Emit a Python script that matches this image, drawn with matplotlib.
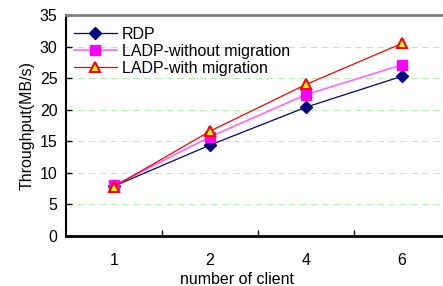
import matplotlib.pyplot as plt

plt.rcParams['font.family'] = ['Liberation Sans', 'DejaVu Sans']

clients = ["1", "2", "4", "6"]
rdp = [7.9, 14.4, 20.4, 25.3]
ladp_without = [8.0, 15.7, 22.4, 27.1]
ladp_with = [7.8, 16.6, 24.0, 30.5]

fig = plt.figure(figsize=(4.43, 2.86), dpi=100)
# axes runs a bit past the right edge, like the original
ax = fig.add_axes([66 / 443, 50 / 286, 384 / 443, 221 / 286])

x = list(range(len(clients)))
ax.plot(x, rdp, color="#000080", lw=0.9, marker="D", ms=6,
        mfc="#000080", mec="#000080", label="RDP", zorder=3)
ax.plot(x, ladp_without, color="#FF66FF", lw=1.2, marker="s", ms=7,
        mfc="#FF00FF", mec="#FF00FF", label="LADP-without migration", zorder=4)
ax.plot(x, ladp_with, color="#FF0000", lw=0.9, marker="^", ms=7,
        mfc="#FFFF00", mec="#FF0000", mew=1.5, label="LADP-with migration", zorder=5)

ax.set_xlim(-0.5, 3.5)
ax.set_ylim(0, 35)
ax.set_yticks(range(0, 36, 5))
ax.set_xticks(x)
ax.set_xticklabels(clients)
ax.set_xticks([0.5, 1.5, 2.5], minor=True)
ax.tick_params(axis="x", which="major", length=0, labelsize=11.5, pad=12)
ax.tick_params(axis="x", which="minor", direction="in", length=4, width=1)
ax.tick_params(axis="y", direction="in", length=4, width=1, labelsize=11.5, pad=6)

for v in range(5, 35, 5):
    ax.axhline(v, color="#B8F0B8", lw=0.8, ls=(0, (6, 4)), zorder=1)

ax.spines["right"].set_visible(False)
ax.spines["top"].set_color("#808080")
ax.spines["top"].set_linewidth(2)
ax.spines["left"].set_linewidth(1.5)
ax.spines["bottom"].set_linewidth(2)

ax.set_ylabel("Throughput(MB/s)", fontsize=11.5, labelpad=4)
ax.set_xlabel("number of client", fontsize=11.5, labelpad=0)
ax.xaxis.set_label_coords(0.445, -0.165)

ax.legend(loc="upper left", frameon=False, fontsize=11.5, handlelength=2.7,
          handletextpad=0.3, labelspacing=0.12, borderaxespad=0.2,
          bbox_to_anchor=(-0.005, 0.99))

fig.savefig("out.png", dpi=100)
